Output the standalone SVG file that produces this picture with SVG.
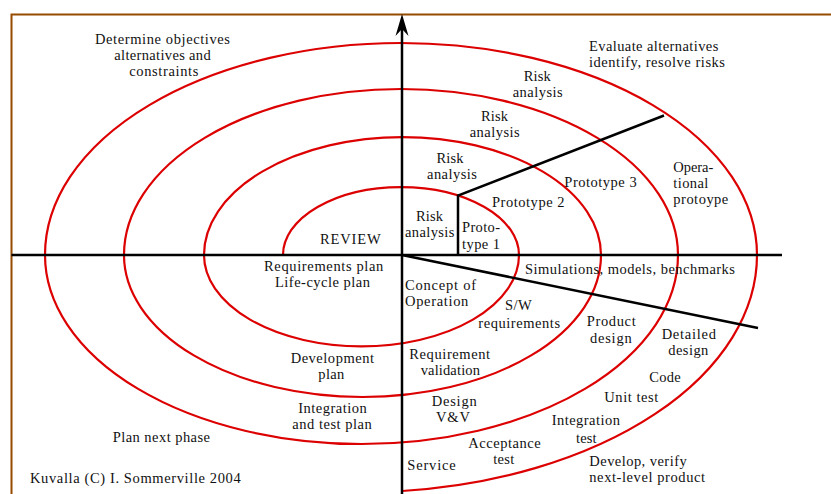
<svg xmlns="http://www.w3.org/2000/svg" width="831" height="494" viewBox="0 0 831 494">
  <style>
    text { font-family: "Liberation Serif", "Times New Roman", serif; font-size: 14.5px; fill: #111; }
    .c { text-anchor: middle; }
    .axis { stroke: #000; stroke-width: 2.5; fill: none; }
    .spiral { stroke: #dc0000; stroke-width: 2.2; fill: none; stroke-linejoin: round; }
    .frame { stroke: #964b00; stroke-width: 2; fill: none; }
  </style>

  <rect width="831" height="494" fill="#fff"/>

  <!-- outer frame (continues past the right and bottom edges) -->
  <path class="frame" d="M 11.5 494 V 14.5 H 831"/>

  <!-- spiral: upper half-ellipses centred at x=401, lower ones at x=361.5 -->
  <path id="spiral" class="spiral" d="M 283 255
    A 118 68 0 0 1 519 255
    A 157.5 91.4 0 0 1 204 255
    A 198.5 118 0 0 1 601 255
    A 238.5 142 0 0 1 124 255
    A 277 166 0 0 1 678 255
    A 316.5 189 0 0 1 45 255
    A 356 212 0 0 1 757 255
    A 395.5 237.25 0 0 1 402 491"/>

  <!-- axes and dividing lines -->
  <g id="connectors">
    <line class="axis" x1="402" y1="494" x2="402" y2="24"/>
    <path d="M 402 14 L 408.5 36 L 402 29 L 395.5 36 Z" fill="#000"/>
    <line class="axis" x1="11.5" y1="255" x2="782" y2="255"/>
    <line class="axis" x1="402" y1="255" x2="758" y2="328"/>
    <polyline class="axis" points="458,255 458,195.5 664,115.5"/>
  </g>

  <!-- quadrant headings -->
  <g id="objectives">
    <text class="c" x="162.5" y="43.5" textLength="135" lengthAdjust="spacing">Determine objectives</text>
    <text class="c" x="162.5" y="59.6" textLength="96.4" lengthAdjust="spacing">alternatives and</text>
    <text class="c" x="163.8" y="75.7" textLength="69" lengthAdjust="spacing">constraints</text>
  </g>
  <g id="evaluate">
    <text x="589" y="50.5" textLength="129.3" lengthAdjust="spacing">Evaluate alternatives</text>
    <text x="589" y="66.6" textLength="136" lengthAdjust="spacing">identify, resolve risks</text>
  </g>
  <g id="plan-next">
    <text x="112.7" y="441.7" textLength="97.3" lengthAdjust="spacing">Plan next phase</text>
  </g>
  <g id="develop">
    <text x="589.3" y="466.2" textLength="97.4" lengthAdjust="spacing">Develop, verify</text>
    <text x="589.3" y="482.3" textLength="115.7" lengthAdjust="spacing">next-level product</text>
  </g>

  <!-- risk analysis rounds -->
  <g id="risk-4">
    <text class="c" x="537.3" y="81" textLength="27" lengthAdjust="spacing">Risk</text>
    <text class="c" x="537.7" y="97.1" textLength="50" lengthAdjust="spacing">analysis</text>
  </g>
  <g id="risk-3">
    <text class="c" x="494.5" y="121" textLength="27" lengthAdjust="spacing">Risk</text>
    <text class="c" x="494.7" y="137.1" textLength="50" lengthAdjust="spacing">analysis</text>
  </g>
  <g id="risk-2">
    <text class="c" x="450" y="162.5" textLength="27" lengthAdjust="spacing">Risk</text>
    <text class="c" x="452" y="178.6" textLength="50" lengthAdjust="spacing">analysis</text>
  </g>
  <g id="risk-1">
    <text class="c" x="429.5" y="220.5" textLength="27" lengthAdjust="spacing">Risk</text>
    <text class="c" x="429.7" y="236.6" textLength="49.3" lengthAdjust="spacing">analysis</text>
  </g>

  <!-- prototypes -->
  <g id="prototype-1">
    <text x="462" y="232.3" textLength="38" lengthAdjust="spacing">Proto-</text>
    <text x="462" y="249" textLength="38" lengthAdjust="spacing">type 1</text>
  </g>
  <g id="prototype-2">
    <text x="492" y="207" textLength="72.5" lengthAdjust="spacing">Prototype 2</text>
  </g>
  <g id="prototype-3">
    <text x="564.3" y="187" textLength="72.4" lengthAdjust="spacing">Prototype 3</text>
  </g>
  <g id="operational-prototype">
    <text x="673.3" y="171.7" textLength="40" lengthAdjust="spacing">Opera-</text>
    <text x="673.3" y="188.3" textLength="35" lengthAdjust="spacing">tional</text>
    <text x="673.3" y="204.4" textLength="55" lengthAdjust="spacing">protoype</text>
  </g>

  <!-- planning quadrant -->
  <g id="review">
    <text x="320" y="244.3" textLength="60.7" lengthAdjust="spacing">REVIEW</text>
  </g>
  <g id="requirements-plan">
    <text class="c" x="323.7" y="271.2" textLength="119.3" lengthAdjust="spacing">Requirements plan</text>
    <text class="c" x="322.5" y="287.3" textLength="95" lengthAdjust="spacing">Life-cycle plan</text>
  </g>
  <g id="development-plan">
    <text class="c" x="332.3" y="362.8" textLength="83.3" lengthAdjust="spacing">Development</text>
    <text class="c" x="331.3" y="378.9" textLength="26" lengthAdjust="spacing">plan</text>
  </g>
  <g id="integration-plan">
    <text class="c" x="332.5" y="412.8" textLength="68.4" lengthAdjust="spacing">Integration</text>
    <text class="c" x="332" y="428.9" textLength="79.4" lengthAdjust="spacing">and test plan</text>
  </g>

  <!-- engineering quadrant -->
  <g id="simulations">
    <text x="525" y="274" textLength="210" lengthAdjust="spacing">Simulations, models, benchmarks</text>
  </g>
  <g id="concept">
    <text x="405" y="289.8" textLength="71" lengthAdjust="spacing">Concept of</text>
    <text x="405" y="305.9" textLength="63.3" lengthAdjust="spacing">Operation</text>
  </g>
  <g id="sw-requirements">
    <text class="c" x="518.3" y="310" textLength="26.7" lengthAdjust="spacing">S/W</text>
    <text class="c" x="519.2" y="328.3" textLength="81.7" lengthAdjust="spacing">requirements</text>
  </g>
  <g id="product-design">
    <text class="c" x="611.2" y="326" textLength="49" lengthAdjust="spacing">Product</text>
    <text class="c" x="610.8" y="342.7" textLength="41.7" lengthAdjust="spacing">design</text>
  </g>
  <g id="detailed-design">
    <text class="c" x="688.8" y="339.3" textLength="54.3" lengthAdjust="spacing">Detailed</text>
    <text class="c" x="688.3" y="355.4" textLength="40" lengthAdjust="spacing">design</text>
  </g>
  <g id="code">
    <text x="649.3" y="381.7" textLength="31.4" lengthAdjust="spacing">Code</text>
  </g>
  <g id="unit-test">
    <text x="604.3" y="401.7" textLength="54" lengthAdjust="spacing">Unit test</text>
  </g>
  <g id="integration-test">
    <text class="c" x="585.8" y="425" textLength="68.3" lengthAdjust="spacing">Integration</text>
    <text class="c" x="586.3" y="442.7" textLength="20.7" lengthAdjust="spacing">test</text>
  </g>
  <g id="requirement-validation">
    <text class="c" x="449.7" y="359" textLength="80.7" lengthAdjust="spacing">Requirement</text>
    <text class="c" x="450.3" y="375.1" textLength="59.3" lengthAdjust="spacing">validation</text>
  </g>
  <g id="design-vv">
    <text class="c" x="454.2" y="405.8" textLength="45" lengthAdjust="spacing">Design</text>
    <text class="c" x="453" y="421.9" textLength="34" lengthAdjust="spacing">V&amp;V</text>
  </g>
  <g id="acceptance-test">
    <text class="c" x="504.5" y="448.3" textLength="72.4" lengthAdjust="spacing">Acceptance</text>
    <text class="c" x="503.8" y="464.4" textLength="21" lengthAdjust="spacing">test</text>
  </g>
  <g id="service">
    <text x="407.3" y="470" textLength="48.4" lengthAdjust="spacing">Service</text>
  </g>

  <g id="credit">
    <text x="30" y="483.3" textLength="210.7" lengthAdjust="spacing">Kuvalla (C) I. Sommerville 2004</text>
  </g>
</svg>
